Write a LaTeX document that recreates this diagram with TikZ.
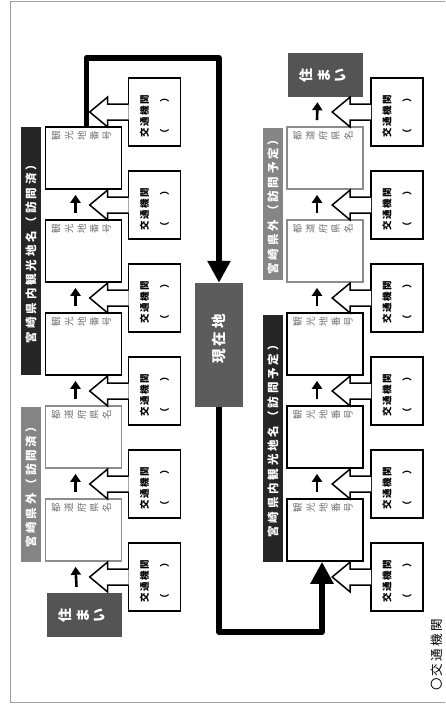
\documentclass[tikz,border=0pt]{standalone}
\usepackage{fontspec}
\newfontfamily\jp{Noto Sans CJK JP}
\usetikzlibrary{arrows.meta, calc, positioning}
\definecolor{bardark}{rgb}{0.15, 0.15, 0.15}
\definecolor{bargray}{rgb}{0.52, 0.52, 0.52}
\definecolor{edgegray}{rgb}{0.55, 0.55, 0.55}
\definecolor{textgray}{rgb}{0.45, 0.45, 0.45}
\definecolor{homegray}{rgb}{0.33, 0.33, 0.33}
\definecolor{heregray}{rgb}{0.36, 0.36, 0.36}
\definecolor{framegray}{rgb}{0.62, 0.62, 0.62}
\makeatletter
% each character turned on its side, laid out in a row
\newcommand\sidechars[2]{\@tfor\sc@c:=#2\do{\rotatebox{90}{\sc@c}\hspace{#1}}\hspace{-#1}}
\makeatother
\tikzset{
  spotbox/.style={draw=black, line width=1.6pt, fill=white, minimum width=76pt, minimum height=62pt, inner sep=0pt},
  prefbox/.style={spotbox, draw=edgegray},
  ridebox/.style={draw=black, line width=1.6pt, fill=white, minimum width=52pt, minimum height=68pt, inner sep=0pt},
  homebox/.style={fill=homegray, minimum width=75pt, minimum height=44pt, inner sep=0pt},
  boxtext/.style={inner sep=0pt, text=textgray, font=\jp\fontsize{9.5}{10}\selectfont},
  hometext/.style={inner sep=0pt, text=white, font=\jp\bfseries\fontsize{14}{15}\selectfont},
  ridetext/.style={rotate=90, align=center, inner sep=0pt, font=\jp\bfseries\fontsize{9.5}{20}\selectfont\addfontfeature{LetterSpace=15}},
  bar/.style={rotate=90, minimum height=20pt, inner sep=0pt, text=white, font=\jp\bfseries\fontsize{11.5}{12}\selectfont\addfontfeature{LetterSpace=25}},
  uparrow/.style={-{Triangle[width=10pt, length=8pt]}, line width=2.6pt},
  flow/.style={-{Triangle[width=22pt, length=22pt]}, line width=5.5pt, line join=round},
  blockarrow/.style={fill=white, draw=black, line width=1.5pt, line join=miter},
}
\newcommand\ridearrow[1]{\filldraw[blockarrow] ($(#1.west)+(1,-8)$) -- ++(-21,0) -- ++(0,-7) -- ++(-18,15) -- ++(18,15) -- ++(0,-7) -- ++(21,0);}
\begin{document}
\begin{tikzpicture}[x=1pt, y=-1pt]
    \clip (0,0) rectangle (445,720);
    \useasboundingbox (0,0) rectangle (445,720);
    \draw[framegray, line width=0.8pt] (10,1) rectangle (452,702);
    \newcount \myy
    % left column, read upwards from home
    \foreach \n in {1, 2, 3}{
        \myy=\n \advance\myy by -1 \multiply\myy by 93 \advance\myy by 158
        \node[spotbox] (L\n) at (83.5,\the\myy) {};
        \node[boxtext] (Lt\n) at ($(L\n.north)+(0,10)$) {\sidechars{4.1pt}{観光地番号}};
    }
    \foreach \n in {4, 5}{
        \myy=\n \advance\myy by -1 \multiply\myy by 93 \advance\myy by 158
        \node[prefbox] (L\n) at (83.5,\the\myy) {};
        \node[boxtext] (Lt\n) at ($(L\n.north)+(0,10)$) {\sidechars{4.1pt}{都道府県名}};
    }
    \node[homebox] (homeL) at (84.5,615) {};
    \node[hometext] (homeLt) at (homeL) {\sidechars{5pt}{住まい}};
    \foreach \n in {1, ..., 6}{
        \myy=\n \advance\myy by -1 \multiply\myy by 93 \advance\myy by 112
        \node[ridebox] (T\n) at (154.5,\the\myy) {};
        \ridearrow{T\n}
        \node[ridetext] (Tt\n) at ($(T\n)+(0,4)$) {交通機関\\（\hspace{2.8em}）};
    }
    \foreach \n/\m in {1/2, 2/3, 3/4, 4/5}{
        \draw[uparrow] ($(L\m.north)+(-8,-6)$) -- ($(L\n.south)+(-8,5)$);
    }
    \draw[uparrow] ($(homeL.north)+(-8,-6)$) -- ($(L5.south)+(-8,5)$);
    \node[bar, fill=bardark, minimum width=248pt] (barL1) at (31,251) {宮崎県内観光地名（訪問済）};
    \node[bar, fill=bargray, minimum width=155pt] (barL2) at (31,484.5) {宮崎県外（訪問済）};
    % right column, read upwards back home
    \foreach \n in {1, 2}{
        \myy=\n \advance\myy by -1 \multiply\myy by 93 \advance\myy by 158
        \node[prefbox] (R\n) at (325,\the\myy) {};
        \node[boxtext] (Rt\n) at ($(R\n.north)+(0,10)$) {\sidechars{4.1pt}{都道府県名}};
    }
    \foreach \n in {3, 4, 5}{
        \myy=\n \advance\myy by -1 \multiply\myy by 93 \advance\myy by 158
        \node[spotbox] (R\n) at (325,\the\myy) {};
        \node[boxtext] (Rt\n) at ($(R\n.north)+(0,10)$) {\sidechars{4.1pt}{観光地番号}};
    }
    \node[homebox] (homeR) at (325.5,75) {};
    \node[hometext] (homeRt) at (homeR) {\sidechars{5pt}{住まい}};
    \foreach \n in {1, ..., 6}{
        \myy=\n \advance\myy by -1 \multiply\myy by 93 \advance\myy by 112
        \node[ridebox] (U\n) at (397,\the\myy) {};
        \ridearrow{U\n}
        \node[ridetext] (Ut\n) at ($(U\n)+(0,4)$) {交通機関\\（\hspace{2.8em}）};
    }
    \foreach \n/\m in {1/2, 2/3, 3/4, 4/5}{
        \draw[uparrow] ($(R\m.north)+(-8,-6)$) -- ($(R\n.south)+(-8,5)$);
    }
    \draw[uparrow] ($(R1.north)+(-8,-6)$) -- ($(homeR.south)+(-8,5)$);
    \node[bar, fill=bargray, minimum width=152pt] (barR1) at (273,204) {宮崎県外（訪問予定）};
    \node[bar, fill=bardark, minimum width=247pt] (barR2) at (273,438.5) {宮崎県内観光地名（訪問予定）};
    % current place in the middle
    \node[fill=heregray, minimum width=48pt, minimum height=124pt, inner sep=0pt] (here) at (219,345) {};
    \node[rotate=90, inner sep=0pt, text=white, font=\jp\bfseries\fontsize{14.5}{15}\selectfont\addfontfeature{LetterSpace=20}] (heret) at ($(here)+(0,-6)$) {現在地};
    \path (here.north) ++(0,-225) coordinate (topturn);
    \path (here.south) ++(0,225) coordinate (lowturn);
    \draw[flow] ($(L1.north)+(3,0)$) |- (topturn) -- (here.north);
    \draw[flow] (here.south) |- ($(lowturn -| R5)+(-3,0)$) -- ($(R5.south)+(-3,0)$);
    \node[rotate=90, inner sep=0pt, font=\jp\fontsize{12.5}{13}\selectfont\addfontfeature{LetterSpace=18}] (note) at (437,655) {〇交通機関};
\end{tikzpicture}
\end{document}
